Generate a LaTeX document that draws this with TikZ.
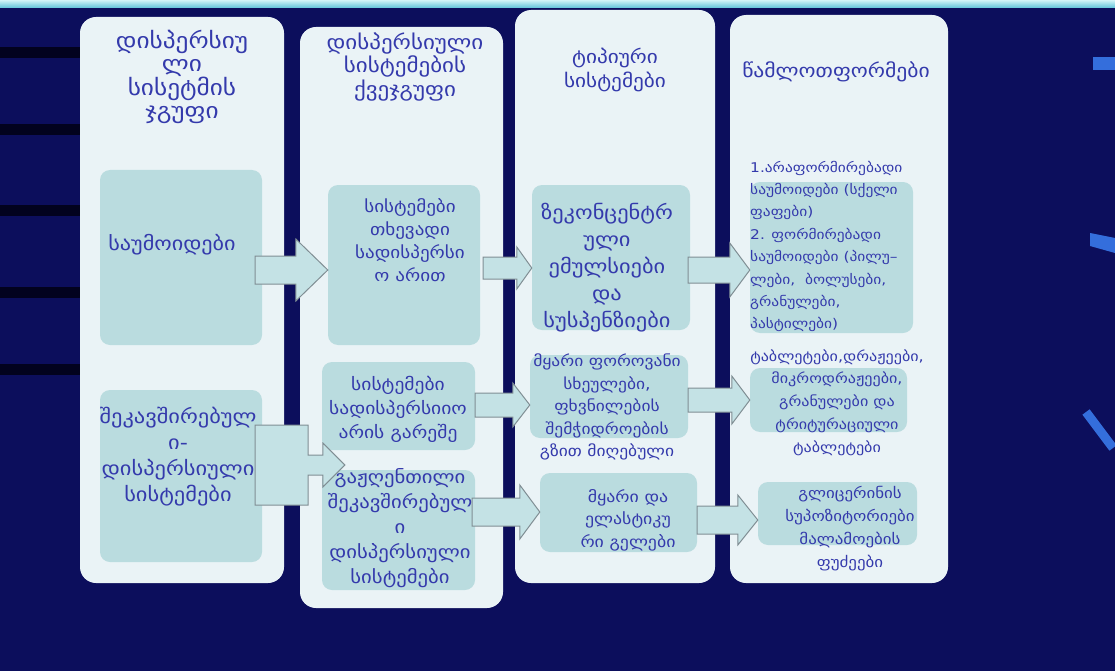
\documentclass[tikz,border=0pt]{standalone}
\usepackage{fontspec}
\setmainfont{DejaVu Sans}
\newfontfamily\geo[FakeStretch=1.15]{DejaVu Sans}
\usetikzlibrary{calc}
\definecolor{navy}{RGB}{12,14,92}
\definecolor{panel}{RGB}{234,243,246}
\definecolor{cell}{RGB}{186,220,223}
\definecolor{ink}{RGB}{52,58,172}
\definecolor{edge}{RGB}{128,142,148}
\definecolor{flow}{RGB}{196,226,229}
\definecolor{stripe}{RGB}{2,2,30}
\definecolor{accent}{RGB}{52,110,220}
\definecolor{topA}{RGB}{210,244,248}
\definecolor{topB}{RGB}{95,195,218}

% block arrow: start, tip, half shaft height, half head height, head length
\newcommand\blockarrow[5]{%
  \draw[flowarrow] let \p1=(#1), \p2=(#2) in
    (\x1,\y1+#3) -- (\x2-#5,\y1+#3) -- (\x2-#5,\y1+#4) -- (\x2,\y1)
    -- (\x2-#5,\y1-#4) -- (\x2-#5,\y1-#3) -- (\x1,\y1-#3) -- cycle;}

\begin{document}
\begin{tikzpicture}[x=1pt,y=-1pt,
  panelbox/.style={fill=panel, rounded corners=16pt, inner sep=0pt},
  cellbox/.style={fill=cell, rounded corners=10pt, inner sep=0pt},
  flowarrow/.style={fill=flow, draw=edge, line width=1pt, line join=miter},
  lbl/.style={text=ink, inner sep=0pt, align=center},
  hdr/.style={lbl, font=\geo\fontsize{20}{23.5}\selectfont},
  big/.style={lbl, font=\geo\fontsize{19.3}{25}\selectfont},
  mid/.style={lbl, font=\geo\fontsize{16.6}{23}\selectfont},
  sml/.style={lbl, font=\geo\fontsize{15.2}{22.5}\selectfont},
  tiny/.style={lbl, font=\geo\fontsize{13.4}{22.4}\selectfont}]

\useasboundingbox (0,0) rectangle (1115,671);

% backdrop
\fill[navy] (0,0) rectangle (1115,671);
\shade[top color=topA, bottom color=topB] (0,0) rectangle (1115,8);
\foreach \yy in {47,124,205,287,364}
  \fill[stripe] (0,\yy) rectangle (80,\yy+11);
\fill[accent] (1093,57) rectangle (1115,70);
\fill[accent] (1090,233) -- (1115,238) -- (1115,253) -- (1090,246) -- cycle;
\draw[accent, line width=9pt] (1086,412) -- (1113,448);

% columns
\node[panelbox, minimum width=204pt, minimum height=566pt] (c1) at (182,300) {};
\node[panelbox, minimum width=203pt, minimum height=581pt] (c2) at (401.5,317.5) {};
\node[panelbox, minimum width=200pt, minimum height=573pt] (c3) at (615,296.5) {};
\node[panelbox, minimum width=218pt, minimum height=568pt] (c4) at (839,299) {};

% cells
\node[cellbox, minimum width=162pt, minimum height=175pt] (b11) at (181,257.5) {};
\node[cellbox, minimum width=162pt, minimum height=172pt] (b12) at (181,476) {};
\node[cellbox, minimum width=152pt, minimum height=160pt] (b21) at (404,265) {};
\node[cellbox, minimum width=153pt, minimum height=88pt]  (b22) at (398.5,406) {};
\node[cellbox, minimum width=153pt, minimum height=120pt] (b23) at (398.5,530) {};
\node[cellbox, minimum width=158pt, minimum height=145pt] (b31) at (611,257.5) {};
\node[cellbox, minimum width=158pt, minimum height=83pt]  (b32) at (609,396.5) {};
\node[cellbox, minimum width=157pt, minimum height=79pt]  (b33) at (618.5,512.5) {};
\node[cellbox, minimum width=163pt, minimum height=151pt] (b41) at (831.5,257.5) {};
\node[cellbox, minimum width=157pt, minimum height=64pt]  (b42) at (828.5,400) {};
\node[cellbox, minimum width=159pt, minimum height=63pt]  (b43) at (837.5,513.5) {};

% headers
\node[hdr, font=\geo\fontsize{22}{23.5}\selectfont] (h1) at (182,77) {დისპერსიუ\\ლი\\სისეტმის\\ჯგუფი};
\node[hdr] (h2) at (405,67) {დისპერსიული\\სისტემების\\ქვეჯგუფი};
\node[hdr, font=\geo\fontsize{18.5}{24}\selectfont] (h3) at (615,70) {ტიპიური\\სისტემები};
\node[hdr, font=\geo\fontsize{18.8}{24}\selectfont] (h4) at (836,72) {წამლოთფორმები};

% cell texts
\node[big] (t11) at (172,245) {საუმოიდები};
\node[big, font=\geo\fontsize{19.5}{26}\selectfont] (t12) at (178,457) {შეკავშირებულ\\ი-\\დისპერსიული\\სისტემები};
\node[mid] (t21) at (410,240) {სისტემები\\თხევადი\\სადისპერსი\\ო არით};
\node[mid, font=\geo\fontsize{17}{24}\selectfont] (t22) at (398,409) {სისტემები\\სადისპერსიიო\\არის გარეშე};
\node[mid, font=\geo\fontsize{18}{25}\selectfont] (t23) at (400,528) {გაჟღენთილი\\შეკავშირებულ\\ი\\დისპერსიული\\სისტემები};
\node[mid, font=\geo\fontsize{19.5}{27}\selectfont] (t31) at (607,268) {ზეკონცენტრ\\ული\\ემულსიები\\და\\სუსპენზიები};
\node[sml] (t32) at (607,407) {მყარი ფოროვანი\\სხეულები,\\ფხვნილების\\შემჭიდროების\\გზით მიღებული};
\node[sml, font=\geo\fontsize{15.5}{22.5}\selectfont] (t33) at (628,520) {მყარი და\\ელასტიკუ\\რი გელები};
\node[tiny, align=left, anchor=west] (t41) at (750,246.5) {1.არაფორმირებადი\\საუმოიდები (სქელი\\ფაფები)\\2. ფორმირებადი\\საუმოიდები (პილუ–\\ლები,\ \ ბოლუსები,\\გრანულები,\\პასტილები)};
\node[tiny, font=\geo\fontsize{14}{22.75}\selectfont] (t42) at (837,402.5) {ტაბლეტები,დრაჟეები,\\მიკროდრაჟეები,\\გრანულები და\\ტრიტურაციული\\ტაბლეტები};
\node[tiny, font=\geo\fontsize{14.7}{23}\selectfont] (t43) at (850,529) {გლიცერინის\\სუპოზიტორიები\\მალამოების\\ფუძეები};

% connectors
\blockarrow{$(b11.east)+(-7,12.5)$}{b21.west}{14pt}{31pt}{32pt}
\blockarrow{$(b21.east)+(3,3)$}{b31.west}{11pt}{21pt}{15pt}
\blockarrow{$(b31.east)+(-2,12.5)$}{b41.west}{13pt}{27pt}{20pt}
\blockarrow{$(b22.east)+(0,-1)$}{b32.west}{12pt}{22pt}{17pt}
\blockarrow{$(b32.east)+(0,3.5)$}{b42.west}{12pt}{24pt}{18pt}
\blockarrow{$(b23.east)+(-3,-18)$}{b33.west}{14pt}{27pt}{20pt}
\blockarrow{$(b33.east)+(0,7.5)$}{b43.west}{14pt}{25pt}{20pt}
% stepped arrow from the lower left cell into the second column
\draw[flowarrow] let \p1=($(b12.east)+(-7,-11)$), \p2=($(b22.south west)+(23,0)$) in
  (\x1,\y1+40pt) -- (\x1+53pt,\y1+40pt) -- (\x1+53pt,\y1+10pt) -- (\x2-22pt,\y1+10pt)
  -- (\x2-22pt,\y1+22pt) -- (\x2,\y1) -- (\x2-22pt,\y1-22pt) -- (\x2-22pt,\y1-10pt)
  -- (\x1+53pt,\y1-10pt) -- (\x1+53pt,\y1-40pt) -- (\x1,\y1-40pt) -- cycle;
\end{tikzpicture}
\end{document}
